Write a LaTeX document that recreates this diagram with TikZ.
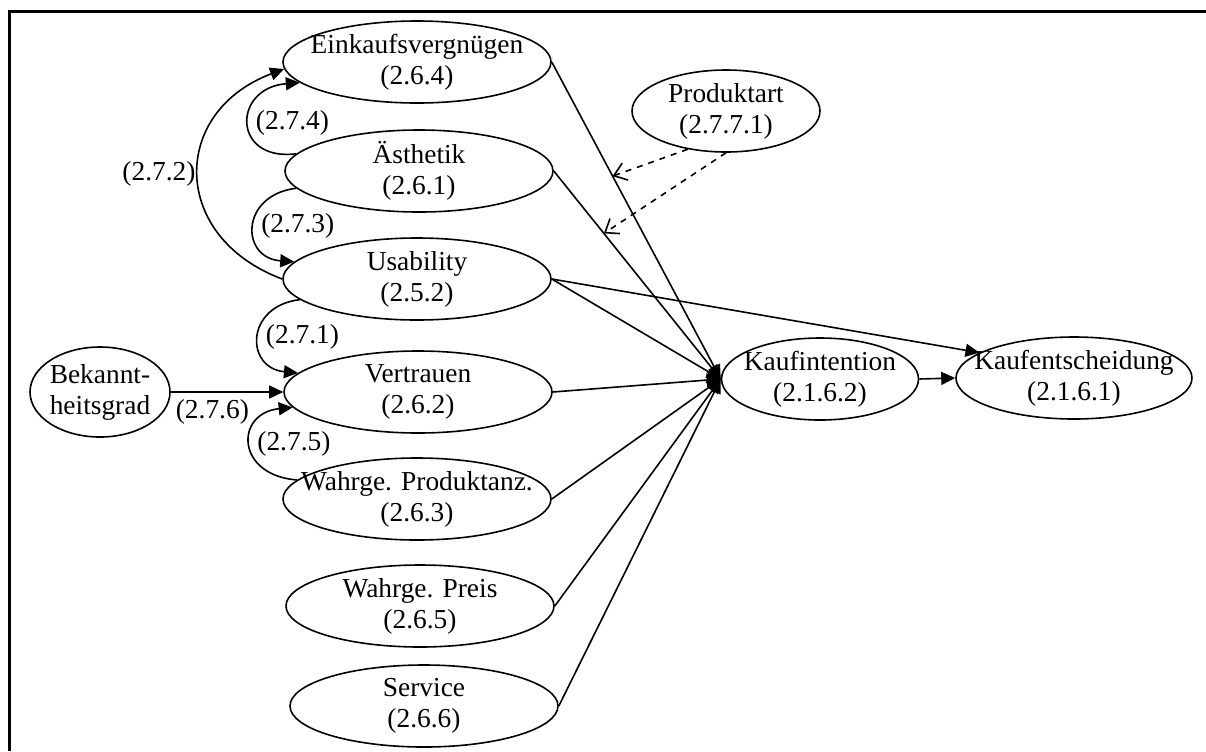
\documentclass[tikz,border=0pt]{standalone}
\usepackage{fontspec}
\setmainfont{Liberation Serif}
\usetikzlibrary{shapes.geometric, arrows.meta}
\newcommand{\nodeFont}[0]{\fontsize{13.7}{15.5}\selectfont}
\newcommand{\edgeWidth}[0]{0.8pt}
\newcommand{\constructHeight}[0]{41pt}

\begin{document}
\begin{tikzpicture}[x=0.5pt, y=-0.5pt, font=\nodeFont, line width=\edgeWidth]
  \tikzset{construct/.style={ellipse, draw, inner sep=0pt, minimum width=#1, minimum height=\constructHeight},
    construct/.default=134pt,
    named/.style={label={[align=center]center:#1}},
    effect/.style={-{Triangle[length=7pt,width=6.5pt]}},
    moderation/.style={dashed, -{Straight Barb[length=6pt,width=9pt]}}}
  \useasboundingbox (0,0) rectangle (1206,751);
  \draw[line width=1.5pt] (9,751) |- (1206,11);

  % predictors
  \node[construct, named={Einkaufsvergnügen\\(2.6.4)}] (einkauf) at (417,62) {};
  \node[construct, named={Ästhetik\\(2.6.1)}] (aesthetik) at (419,171) {};
  \node[construct, named={Usability\\(2.5.2)}] (usability) at (417,279) {};
  \node[construct, named={Vertrauen\\(2.6.2)}] (vertrauen) at (418,392) {};
  \node[construct, named={Wahrge. Produktanz.\\(2.6.3)}] (produktanz) at (417,499) {};
  \node[construct, named={Wahrge. Preis\\(2.6.5)}] (preis) at (420,606) {};
  \node[construct, named={Service\\(2.6.6)}] (service) at (424,706) {};
  \node[construct=70pt, minimum height=45pt, named={Bekannt-\\heitsgrad}] (bekannt) at (100,392) {};
  \node[construct=94pt, named={Produktart\\(2.7.7.1)}] (produktart) at (726,111) {};

  % outcomes
  \node[construct=98.5pt, named={Kaufintention\\(2.1.6.2)}] (kaufint) at (820,379) {};
  \node[construct=118pt, named={Kaufentscheidung\\(2.1.6.1)}] (kaufent) at (1074,378) {};

  \draw[effect] (einkauf.east) -- coordinate[pos=0.36] (onEinkauf) (kaufint.west);
  \draw[effect] (aesthetik.east) -- coordinate[pos=0.3] (onAesthetik) (kaufint.west);
  \foreach \src in {usability, vertrauen, produktanz, preis, service}
    \draw[effect] (\src.east) -- (kaufint.west);
  \draw[effect] (usability.east) -- (kaufent.165);
  \draw[effect] (kaufint.east) -- (kaufent.west);
  \draw[effect] (bekannt.east) -- node[below, pos=0.37] {(2.7.6)} (vertrauen.west);

  % links between predictors
  \draw[effect] (usability.west) .. controls (170,237) and (170,112) .. (einkauf.183)
    node[pos=0.5, left, inner sep=1pt] {(2.7.2)};
  \draw[effect] (aesthetik.172) .. controls (232,162) and (232,88) .. (einkauf.190)
    node[pos=0.5, right] {(2.7.4)};
  \draw[effect] (aesthetik.188) .. controls (240,195) and (240,258) .. (usability.172)
    node[pos=0.5, right] {(2.7.3)};
  \draw[effect] (usability.190) .. controls (245,306) and (245,368) .. (vertrauen.171)
    node[pos=0.5, right] {(2.7.1)};
  \draw[effect] (produktanz.171) .. controls (235,475) and (235,413) .. (vertrauen.187)
    node[pos=0.5, right] {(2.7.5)};

  \draw[moderation] (produktart.225) -- (onEinkauf);
  \draw[moderation] (produktart.south) -- (onAesthetik);
\end{tikzpicture}
\end{document}
